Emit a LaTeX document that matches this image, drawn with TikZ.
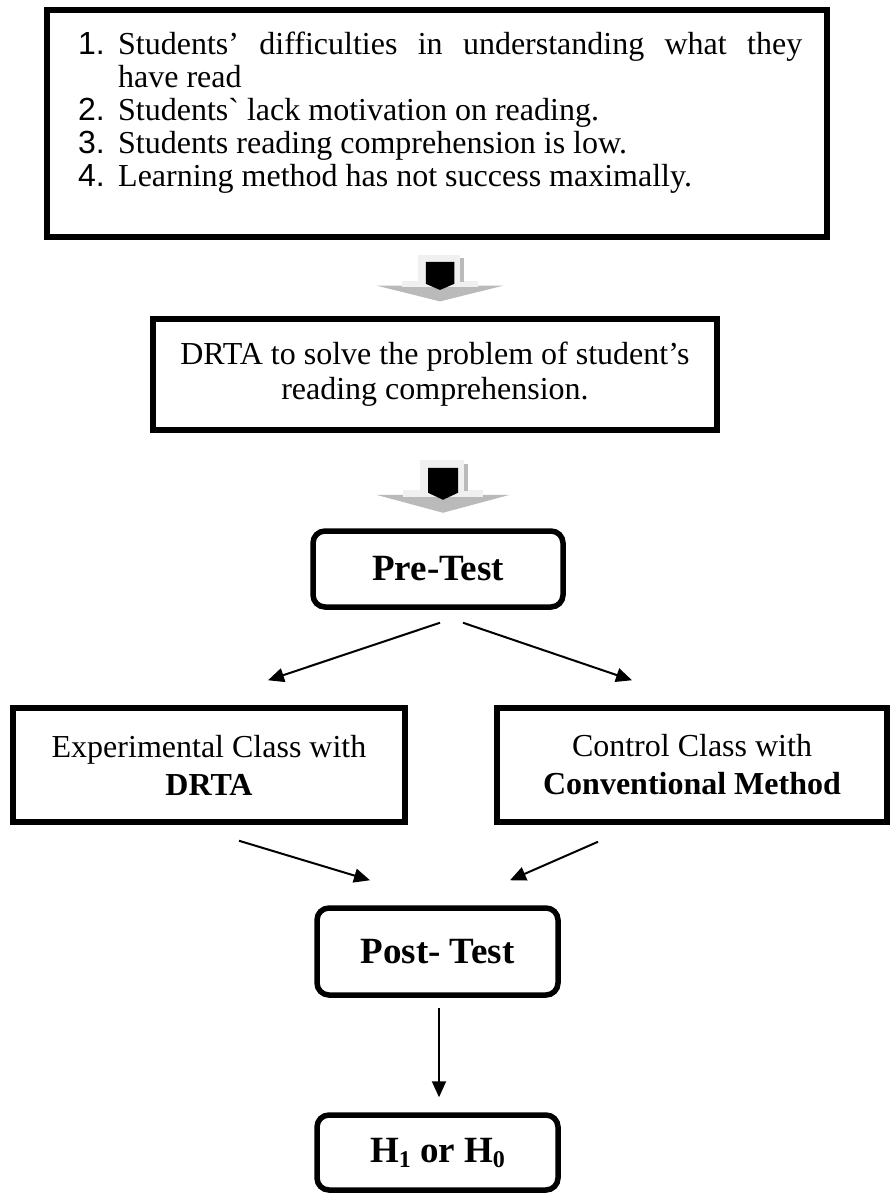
\documentclass[tikz,border=0pt]{standalone}
\usepackage{fontspec}
\setmainfont{Liberation Serif}
\setsansfont{Liberation Sans}
\newfontfamily\rawserif{Liberation Serif}
\usetikzlibrary{arrows.meta}
\newcommand\myitem[2]{\hangindent=40pt\hangafter=1\noindent\makebox[40pt][l]{\sffamily #1}#2\par}
\begin{document}
\begin{tikzpicture}[x=1pt,y=-1pt,
  sqbox/.style={draw, line width=5.5pt, inner sep=0pt, align=center, font=\fontsize{32}{35}\selectfont},
  rbox/.style={draw, line width=5.5pt, rounded corners=12pt, inner sep=0pt, align=center, font=\fontsize{37}{40}\selectfont\bfseries, minimum width=241pt},
  conn/.style={line width=2pt, -{Triangle[length=16pt,width=14pt]}},
  lightgray/.style={fill=black!6, draw=none},
  hatch/.style={fill=black!27, draw=none},
  blockarrow/.pic={
    \path[hatch] (-67,35) -- (67,35) -- (0,53) -- cycle;
    \path[lightgray] (-40,30) rectangle (40,37);
    \path[lightgray] (-23,0) rectangle (21,35);
    \path[hatch] (21,4) rectangle (25,31);
    \path[fill=black] (-15,8) -- (15,8) -- (15,33) -- (0,40) -- (-15,33) -- cycle;
  }
]
\useasboundingbox[fill=white] (0,0) rectangle (893,1198);

% top box with list
\node[draw, line width=5.5pt, minimum width=780pt, minimum height=227pt, inner sep=0pt] (top) at (437,123.5) {};
\node[anchor=base west, text width=724pt, align=justify, inner sep=0pt, font=\fontsize{32}{33}\selectfont] (list) at (78,55) {%
\tolerance=10000\hyphenpenalty=10000\exhyphenpenalty=10000%
\myitem{1.}{Students’ difficulties in understanding what they\linebreak have read}%
\myitem{2.}{Students{\rawserif `} lack motivation on reading.}%
\myitem{3.}{Students reading comprehension is low.}%
\myitem{4.}{Learning method has not success maximally.}};

\node[sqbox, minimum width=564pt, minimum height=111pt] (drta) at (435,374.5) {DRTA to solve the problem of student’s\\reading comprehension.};

\node[rbox, minimum width=250pt, minimum height=76pt] (pre) at (438,569) {Pre-Test};

\node[sqbox, font=\fontsize{32}{38}\selectfont, minimum width=392pt, minimum height=114pt] (exp) at (209,765) {Experimental Class with\\\textbf{DRTA}};
\node[sqbox, font=\fontsize{32}{38}\selectfont, minimum width=390pt, minimum height=114pt] (ctrl) at (692,765) {Control Class with\\\textbf{Conventional Method}};

\node[rbox, minimum height=87pt] (post) at (437.5,951.5) {Post- Test};
\node[rbox, minimum height=75pt] (hyp) at (437.5,1152.5) {H\raisebox{-5pt}{\fontsize{24}{24}\selectfont 1} or H\raisebox{-5pt}{\fontsize{24}{24}\selectfont 0}};

% block arrows
\pic[xscale=0.95, yscale=0.88] at ([shift={(3,15)}]top.south) {blockarrow};
\pic at ([shift={(8,27)}]drta.south) {blockarrow};

% connectors
\coordinate (a1s) at ([shift={(2,13)}]pre.south);
\coordinate (a1e) at ([shift={(59,-25)}]exp.north);
\coordinate (a2s) at ([shift={(25,13)}]pre.south);
\coordinate (a2e) at ([shift={(-60,-25)}]ctrl.north);
\coordinate (a3s) at ([shift={(30,16)}]exp.south);
\coordinate (a3e) at ([shift={(-67.5,-25)}]post.north);
\coordinate (a4s) at ([shift={(-94,17)}]ctrl.south);
\coordinate (a4e) at ([shift={(72.5,-25)}]post.north);
\coordinate (a5s) at ([shift={(1.5,10)}]post.south);
\coordinate (a5e) at ([shift={(1.5,-15)}]hyp.north);
\draw[conn] (a1s) -- (a1e);
\draw[conn] (a2s) -- (a2e);
\draw[conn] (a3s) -- (a3e);
\draw[conn] (a4s) -- (a4e);
\draw[conn] (a5s) -- (a5e);
\end{tikzpicture}
\end{document}
